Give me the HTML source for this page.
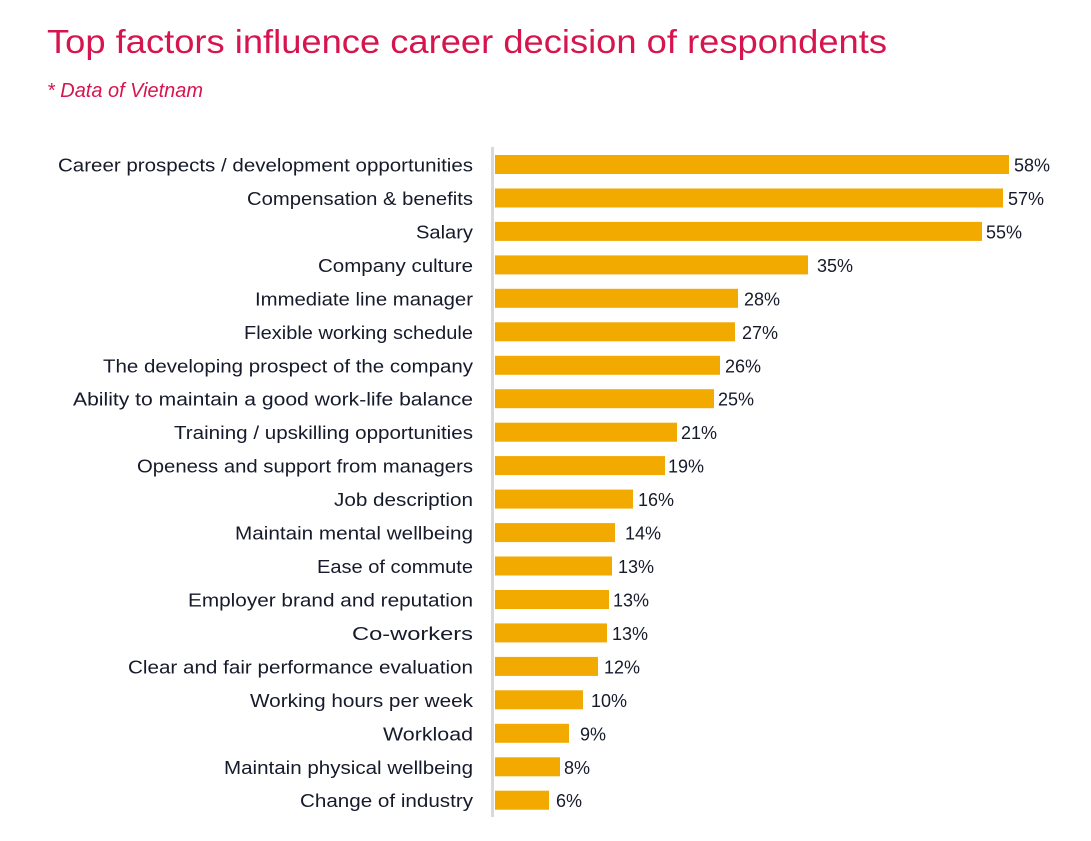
<!DOCTYPE html>
<html><head><meta charset="utf-8"><style>
html,body{margin:0;padding:0;background:#fff;}
svg{display:block;}
text{font-family:"Liberation Sans",sans-serif;}
</style></head><body>
<svg width="1091" height="841" viewBox="0 0 1091 841" xmlns="http://www.w3.org/2000/svg">
<rect width="1091" height="841" fill="#fff"/>
<text x="47" y="53" font-size="33" fill="#d6154f" textLength="840" lengthAdjust="spacingAndGlyphs">Top factors influence career decision of respondents</text>
<text x="47" y="97" font-size="20" font-style="italic" fill="#d6154f" textLength="156" lengthAdjust="spacingAndGlyphs">* Data of Vietnam</text>
<rect x="491" y="147" width="3" height="670" fill="#d9d9d9"/>
<g fill="#f2a900">
<rect x="495" y="155" width="514" height="19"/>
<rect x="495" y="188.5" width="508" height="19"/>
<rect x="495" y="221.9" width="487" height="19"/>
<rect x="495" y="255.4" width="313" height="19"/>
<rect x="495" y="288.8" width="243" height="19"/>
<rect x="495" y="322.3" width="240" height="19"/>
<rect x="495" y="355.8" width="225" height="19"/>
<rect x="495" y="389.2" width="219" height="19"/>
<rect x="495" y="422.7" width="182" height="19"/>
<rect x="495" y="456.1" width="170" height="19"/>
<rect x="495" y="489.6" width="138" height="19"/>
<rect x="495" y="523.1" width="120" height="19"/>
<rect x="495" y="556.5" width="117" height="19"/>
<rect x="495" y="590" width="114" height="19"/>
<rect x="495" y="623.4" width="112" height="19"/>
<rect x="495" y="656.9" width="103" height="19"/>
<rect x="495" y="690.3" width="88" height="19"/>
<rect x="495" y="723.8" width="74" height="19"/>
<rect x="495" y="757.3" width="65" height="19"/>
<rect x="495" y="790.7" width="54" height="19"/>
</g>
<g font-size="18" fill="#161a2a" text-anchor="end">
<text x="473" y="171.5" textLength="415" lengthAdjust="spacingAndGlyphs">Career prospects / development opportunities</text>
<text x="473" y="205" textLength="226" lengthAdjust="spacingAndGlyphs">Compensation &amp; benefits</text>
<text x="473" y="238.4" textLength="57" lengthAdjust="spacingAndGlyphs">Salary</text>
<text x="473" y="271.9" textLength="155" lengthAdjust="spacingAndGlyphs">Company culture</text>
<text x="473" y="305.3" textLength="218" lengthAdjust="spacingAndGlyphs">Immediate line manager</text>
<text x="473" y="338.8" textLength="229" lengthAdjust="spacingAndGlyphs">Flexible working schedule</text>
<text x="473" y="372.3" textLength="370" lengthAdjust="spacingAndGlyphs">The developing prospect of the company</text>
<text x="473" y="405.7" textLength="400" lengthAdjust="spacingAndGlyphs">Ability to maintain a good work-life balance</text>
<text x="473" y="439.2" textLength="299" lengthAdjust="spacingAndGlyphs">Training / upskilling opportunities</text>
<text x="473" y="472.6" textLength="336" lengthAdjust="spacingAndGlyphs">Openess and support from managers</text>
<text x="473" y="506.1" textLength="139" lengthAdjust="spacingAndGlyphs">Job description</text>
<text x="473" y="539.6" textLength="238" lengthAdjust="spacingAndGlyphs">Maintain mental wellbeing</text>
<text x="473" y="573" textLength="156" lengthAdjust="spacingAndGlyphs">Ease of commute</text>
<text x="473" y="606.5" textLength="285" lengthAdjust="spacingAndGlyphs">Employer brand and reputation</text>
<text x="473" y="639.9" textLength="121" lengthAdjust="spacingAndGlyphs">Co-workers</text>
<text x="473" y="673.4" textLength="345" lengthAdjust="spacingAndGlyphs">Clear and fair performance evaluation</text>
<text x="473" y="706.8" textLength="223" lengthAdjust="spacingAndGlyphs">Working hours per week</text>
<text x="473" y="740.3" textLength="90" lengthAdjust="spacingAndGlyphs">Workload</text>
<text x="473" y="773.8" textLength="249" lengthAdjust="spacingAndGlyphs">Maintain physical wellbeing</text>
<text x="473" y="807.2" textLength="173" lengthAdjust="spacingAndGlyphs">Change of industry</text>
</g>
<g font-size="18" fill="#161a2a">
<text x="1014" y="171.5">58%</text>
<text x="1008" y="205">57%</text>
<text x="986" y="238.4">55%</text>
<text x="817" y="271.9">35%</text>
<text x="744" y="305.3">28%</text>
<text x="742" y="338.8">27%</text>
<text x="725" y="372.3">26%</text>
<text x="718" y="405.7">25%</text>
<text x="681" y="439.2">21%</text>
<text x="668" y="472.6">19%</text>
<text x="638" y="506.1">16%</text>
<text x="625" y="539.6">14%</text>
<text x="618" y="573">13%</text>
<text x="613" y="606.5">13%</text>
<text x="612" y="639.9">13%</text>
<text x="604" y="673.4">12%</text>
<text x="591" y="706.8">10%</text>
<text x="580" y="740.3">9%</text>
<text x="564" y="773.8">8%</text>
<text x="556" y="807.2">6%</text>
</g>
</svg>
</body></html>
